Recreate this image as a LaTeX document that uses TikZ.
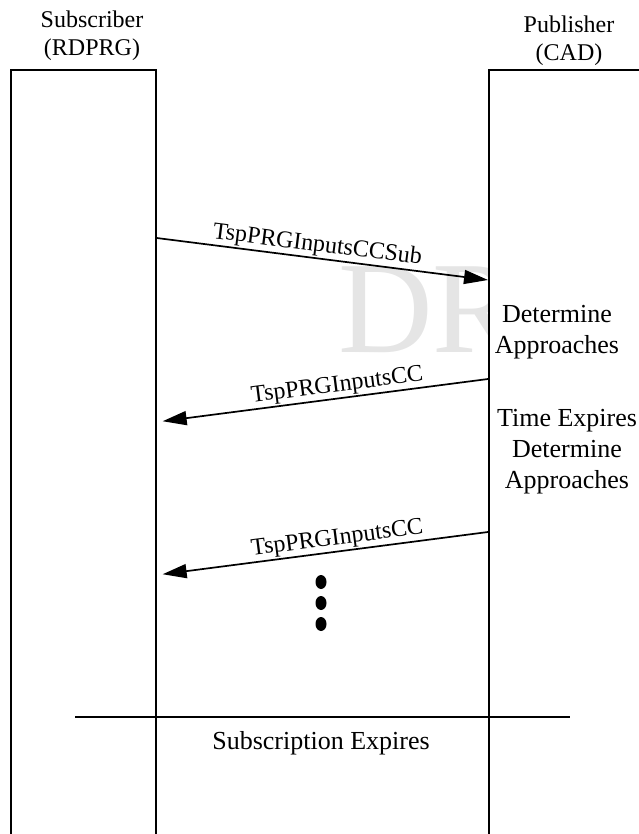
\documentclass[tikz,border=0pt]{standalone}
\usepackage{fontspec}
\setmainfont{Liberation Serif}
\usetikzlibrary{arrows.meta,shapes.geometric}
\begin{document}
\begin{tikzpicture}[x=1pt,y=-1pt,
  lifeline/.style={draw, line width=1.7pt, fill=white, minimum height=820pt, inner sep=0pt, anchor=north west},
  msg/.style={line width=1.7pt, -{Triangle[length=24pt,width=14pt]}},
  msglabel/.style={sloped, above, inner sep=1pt, font=\fontsize{24}{28}\selectfont},
  title/.style={align=center, anchor=north, inner sep=0pt, font=\fontsize{24}{28}\selectfont},
  note/.style={align=center, anchor=north, inner sep=0pt, font=\fontsize{26}{31}\selectfont},
  morepoint/.style={ellipse, fill=black, inner sep=0pt, minimum width=11pt, minimum height=14pt},
  watermark/.style={anchor=base west, inner sep=0pt, text=black!10, font=\fontsize{131}{131}\selectfont}]
\useasboundingbox (0,0) rectangle (638,834);

% faint background stamp, partly hidden by the publisher column
\node[watermark] (wm) at (338,352) {DR};

% lifelines
\node[lifeline, minimum width=145pt] (sub) at (10,69) {};
\node[lifeline, minimum width=200pt] (pub) at (488,69) {};

% lifeline titles
\node[title] (subtitle) at (92,11) {Subscriber\\(RDPRG)};
\node[title] (pubtitle) at (569,16) {Publisher\\(CAD)};

% message heights
\coordinate (h1) at (0,238);
\coordinate (h2) at (0,280);
\coordinate (h3) at (0,379);
\coordinate (h4) at (0,422);
\coordinate (h5) at (0,532);
\coordinate (h6) at (0,575);

% messages
\draw[msg] (sub.east |- h1) -- node[msglabel, pos=.48] (m1) {TspPRGInputsCCSub} (pub.west |- h2);
\draw[msg, shorten >=6pt] (pub.west |- h3) -- node[msglabel, pos=.45] (m2) {TspPRGInputsCC} (sub.east |- h4);
\draw[msg, shorten >=6pt] (pub.west |- h5) -- node[msglabel, pos=.45] (m3) {TspPRGInputsCC} (sub.east |- h6);

% publisher notes
\node[note] (n1) at (557,305) {Determine\\Approaches};
\node[note] (n2) at (567,409) {Time Expires\\Determine\\Approaches};

% continuation marks
\node[morepoint] (d1) at (321,582) {};
\node[morepoint] (d2) at (321,603) {};
\node[morepoint] (d3) at (321,624) {};

% end of subscription
\coordinate (e1) at (75,717);
\coordinate (e2) at (570,717);
\draw[line width=1.7pt] (e1) -- (e2);
\node[anchor=base, inner sep=0pt, font=\fontsize{26}{31}\selectfont] (subexp) at (321,749) {Subscription Expires};
\end{tikzpicture}
\end{document}
